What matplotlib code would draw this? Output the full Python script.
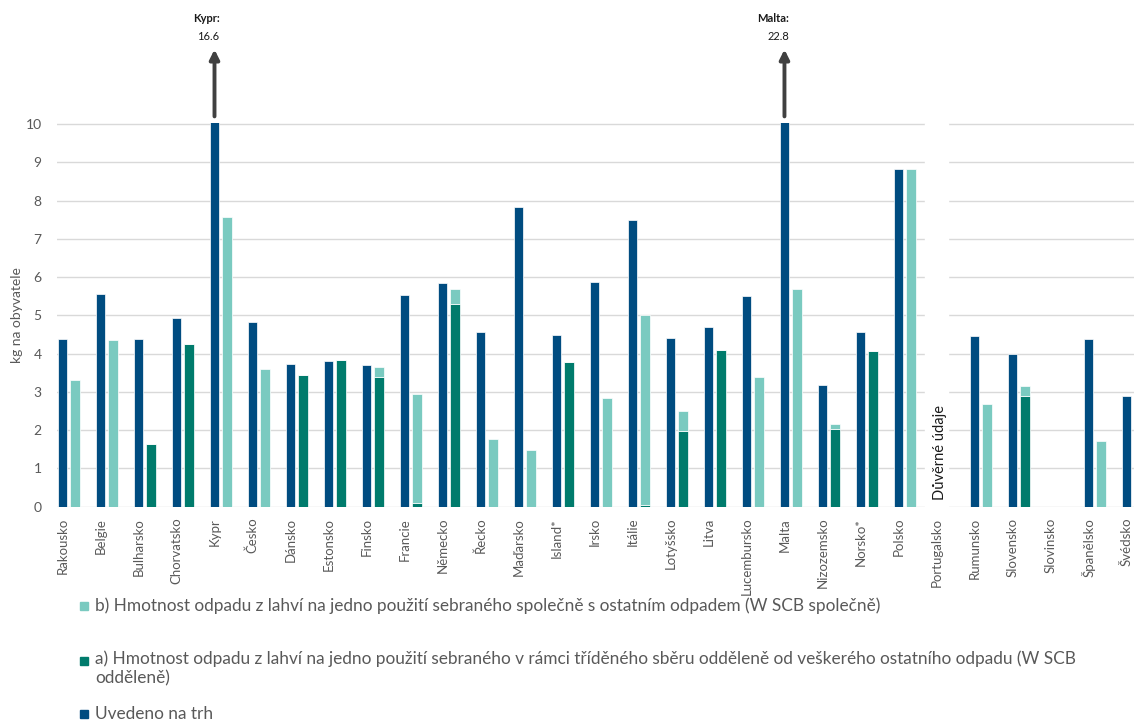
import numpy as np
import matplotlib
matplotlib.use('Agg')
import matplotlib.pyplot as plt
from matplotlib.patches import Rectangle

# Data (kg na obyvatele)
countries = ['Rakousko', 'Belgie', 'Bulharsko', 'Chorvatsko', 'Kypr', 'Česko', 'Dánsko',
             'Estonsko', 'Finsko', 'Francie', 'Německo', 'Řecko', 'Maďarsko', 'Island*',
             'Irsko', 'Itálie', 'Lotyšsko', 'Litva', 'Lucembursko', 'Malta', 'Nizozemsko',
             'Norsko*', 'Polsko', 'Portugalsko', 'Rumunsko', 'Slovensko', 'Slovinsko',
             'Španělsko', 'Švédsko']
nan = np.nan
placed_on_market = [4.37, 5.57, 4.37, 4.93, 16.6, 4.84, 3.74, 3.81, 3.70, 5.54, 5.85, 4.57,
                    7.83, 4.50, 5.87, 7.48, 4.42, 4.70, 5.50, 22.8, 3.17, 4.56, 8.83, nan,
                    4.47, 3.98, nan, 4.37, 2.90]
separate = [0, 0, 1.65, 4.26, 0, 0, 3.43, 3.83, 3.39, 0.10, 5.31, 0, 0, 3.79, 0, 0.04,
            1.97, 4.09, 0, 0, 2.02, 4.08, 0, nan, 0, 2.89, nan, 0, 0]
mixed = [3.32, 4.35, 0, 0, 7.57, 3.59, 0, 0, 0.26, 2.84, 0.37, 1.76, 1.48, 0, 2.84, 4.96,
         0.53, 0, 3.39, 5.68, 0.13, 0, 8.83, nan, 2.68, 0.26, nan, 1.71, 2.57]
yticks = list(range(0, 11))
outliers = {'Kypr': 16.6, 'Malta': 22.8}
confidential = 'Portugalsko'

label_b = ('b) Hmotnost odpadu z lahví na jedno použití sebraného společně s ostatním '
           'odpadem (W SCB společně)')
label_a = ('a) Hmotnost odpadu z lahví na jedno použití sebraného v rámci tříděného sběru '
           'odděleně od veškerého ostatního odpadu (W SCB\nodděleně)')
label_m = 'Uvedeno na trh'

# Barvy
c_market = '#004c80'
c_sep = '#007b6c'
c_mix = '#7acac0'
c_grid = '#d9d9d9'
c_text = '#595959'

plt.rcParams['font.family'] = ['Lato', 'DejaVu Sans']

fig = plt.figure(figsize=(11.34, 7.22), dpi=100)
ax = fig.add_axes([57 / 1134, 215.3 / 722, 1093 / 1134, 383.4 / 722])

x = np.arange(len(countries))
bw = 0.24
off = 0.33
sep_vals = np.nan_to_num(np.array(separate, dtype=float))

ax.bar(x, placed_on_market, bw, color=c_market, edgecolor='white', linewidth=0.5, zorder=3)
ax.bar(x + off, separate, bw, color=c_sep, edgecolor='white', linewidth=0.5, zorder=3)
ax.bar(x + off, mixed, bw, bottom=sep_vals, color=c_mix, edgecolor='white', linewidth=0.5,
       zorder=3)

ax.set_xlim(-0.145, 28.62)
ax.set_ylim(0, 10.02)
ax.set_yticks(yticks)
ax.set_xticks(x)
ax.set_xticklabels(countries, rotation=90, fontsize=9.5, color=c_text)
ax.tick_params(axis='both', length=0, colors=c_text)
ax.tick_params(axis='x', pad=8)
ax.tick_params(axis='y', labelsize=10, pad=11)
for s in ax.spines.values():
    s.set_visible(False)
ax.grid(axis='y', color=c_grid, linewidth=1, zorder=0)
ax.set_axisbelow(True)
ax.set_ylabel('kg na obyvatele', fontsize=10, color=c_text)
ax.yaxis.set_label_coords(-0.031, 0.5)

# Důvěrné údaje - bílý pruh přes mřížku
ip = countries.index(confidential)
ax.axvspan(ip - 0.3, ip + 0.31, color='white', zorder=1)
ax.text(ip + 0.1, 0.17, 'Důvěrné údaje', rotation=90, ha='center', va='bottom',
        fontsize=10.5, color='#1a1a1a', zorder=4)

# Šipky pro hodnoty mimo osu
for name, val in outliers.items():
    i = countries.index(name)
    ax.annotate('', xy=(i, 11.95), xytext=(i, 10.2),
                arrowprops=dict(arrowstyle='-|>', lw=2.8, color='#404040',
                                mutation_scale=14, shrinkA=0, shrinkB=0),
                annotation_clip=False)
    ax.text(i + 0.13, 12.75, name + ':', ha='right', va='center', fontsize=8,
            fontweight='bold', color='#1a1a1a', clip_on=False)
    ax.text(i + 0.13, 12.3, f'{val:.1f}', ha='right', va='center', fontsize=8,
            color='#1a1a1a', clip_on=False)

# Legenda
legend_rows = [(label_b, c_mix, 606), (label_a, c_sep, 661), (label_m, c_market, 714)]
for text, col, ypx in legend_rows:
    fig.patches.append(Rectangle((80 / 1134, 1 - (ypx + 4) / 722), 8 / 1134, 8 / 722,
                                 transform=fig.transFigure, color=col))
    if '\n' in text:
        fig.text(95 / 1134, 1 - (ypx - 11) / 722, text, ha='left', va='top',
                 fontsize=12.45, color=c_text, linespacing=1.3)
    else:
        fig.text(95 / 1134, 1 - ypx / 722, text, ha='left', va='center',
                 fontsize=12.45, color=c_text)

fig.savefig('out.png', dpi=100)
